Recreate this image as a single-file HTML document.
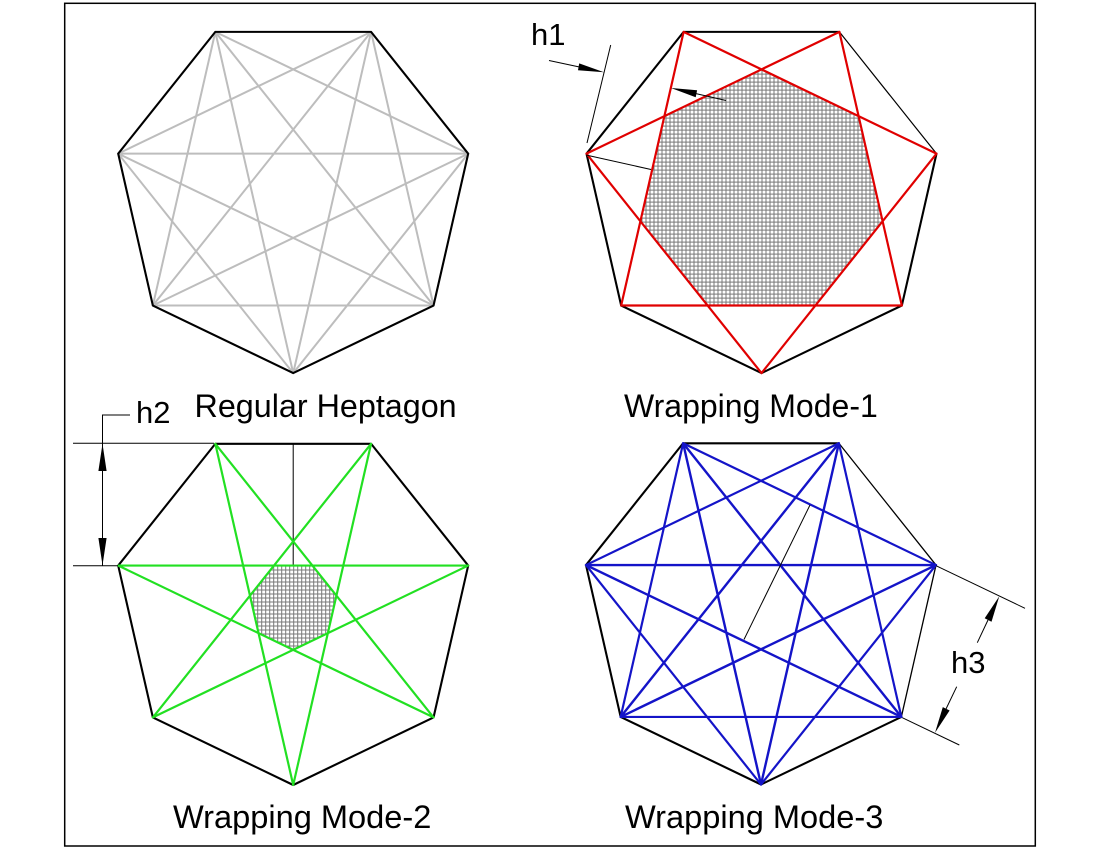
<!DOCTYPE html>
<html>
<head>
<meta charset="utf-8">
<style>
  html,body{margin:0;padding:0;background:#fff;}
  svg{display:block;}
  text{font-family:"Liberation Sans", Arial, sans-serif; fill:#000;}
</style>
</head>
<body>
<svg width="1100" height="850" viewBox="0 0 1100 850" xmlns="http://www.w3.org/2000/svg">
  <defs>
    <pattern id="grid" width="4" height="4" patternUnits="userSpaceOnUse">
      <rect width="4" height="4" fill="#fff"/>
      <path d="M0 0.5H4M0.5 0V4" stroke="#787878" stroke-width="1" shape-rendering="crispEdges"/>
    </pattern>
  </defs>
  <rect x="0" y="0" width="1100" height="850" fill="#fff"/>
  <!-- frame -->
  <rect x="64.7" y="3.3" width="970.6" height="842.7" fill="none" stroke="#000" stroke-width="1.5"/>

  <!-- ===== Heptagon 1: Regular Heptagon ===== -->
  <g transform="translate(293.2,193.6)" stroke-linejoin="round" stroke-linecap="round" fill="none">
    <path d="M0,179.5 L-175,-39.94 L77.88,-161.72 L140.34,111.92 L-140.34,111.92 L-77.88,-161.72 L175,-39.94 Z" stroke="#bdbdbd" stroke-width="2"/>
    <path d="M0,179.5 L-77.88,-161.72 L140.34,111.92 L-175,-39.94 L175,-39.94 L-140.34,111.92 L77.88,-161.72 Z" stroke="#bdbdbd" stroke-width="2"/>
    <polygon points="0,179.5 -140.34,111.92 -175,-39.94 -77.88,-161.72 77.88,-161.72 175,-39.94 140.34,111.92" stroke="#000" stroke-width="2.1"/>
  </g>
  <text x="194.5" y="417" font-size="32.3">Regular Heptagon</text>

  <!-- ===== Heptagon 2: Wrapping Mode-1 ===== -->
  <g transform="translate(761.5,193.6)" stroke-linejoin="round" stroke-linecap="round">
    <polygon points="0,-124.2 97.1,-77.44 121.08,27.64 53.89,111.9 -53.89,111.9 -121.08,27.64 -97.1,-77.44" fill="url(#grid)" stroke="none"/>
    <path d="M-140.34,111.92 L-175,-39.94 L-77.88,-161.72 L77.88,-161.72" fill="none" stroke="#000" stroke-width="2.1"/>
    <path d="M77.88,-161.72 L175,-39.94" fill="none" stroke="#000" stroke-width="1.2"/>
    <path d="M175,-39.94 L140.34,111.92 L0,179.5 L-140.34,111.92" fill="none" stroke="#000" stroke-width="2.1"/>
    <path d="M0,179.5 L-175,-39.94 L77.88,-161.72 L140.34,111.92 L-140.34,111.92 L-77.88,-161.72 L175,-39.94 Z" fill="none" stroke="#e00000" stroke-width="2.2"/>
  </g>
  <!-- h1 dimension -->
  <g stroke="#000" stroke-width="1" fill="none">
    <line x1="587" y1="143" x2="610.7" y2="45"/>
    <line x1="586" y1="155" x2="651" y2="169.5"/>
    <line x1="549" y1="60.5" x2="590" y2="69.3"/>
    <line x1="726" y1="100.5" x2="690" y2="92.3"/>
  </g>
  <polygon points="604,72.3 579.2,63.4 578.0,70.2" fill="#000"/>
  <polygon points="671,88 695.7,97.3 697.1,90.3" fill="#000"/>
  <text x="531" y="45" font-size="31">h1</text>
  <text x="624" y="417" font-size="32">Wrapping Mode-1</text>

  <!-- ===== Heptagon 3: Wrapping Mode-2 ===== -->
  <g transform="translate(293.2,605.5)" stroke-linejoin="round" stroke-linecap="round">
    <polygon points="0,44.3 -34.63,27.62 -43.19,-9.86 -19.22,-39.91 19.22,-39.91 43.19,-9.86 34.63,27.62" fill="url(#grid)" stroke="none"/>
    <line x1="0" y1="-161.72" x2="0" y2="-39.94" stroke="#000" stroke-width="1"/>
    <polygon points="0,179.5 -140.34,111.92 -175,-39.94 -77.88,-161.72 77.88,-161.72 175,-39.94 140.34,111.92" fill="none" stroke="#000" stroke-width="2.1"/>
    <path d="M0,179.5 L-77.88,-161.72 L140.34,111.92 L-175,-39.94 L175,-39.94 L-140.34,111.92 L77.88,-161.72 Z" fill="none" stroke="#22e022" stroke-width="2.2"/>
  </g>
  <!-- h2 dimension -->
  <g stroke="#000" stroke-width="1" fill="none">
    <polyline points="130,415 102.5,415 102.5,565.7"/>
    <line x1="73" y1="443.3" x2="214" y2="443.3"/>
    <line x1="73" y1="565.7" x2="118" y2="565.7"/>
  </g>
  <polygon points="102.5,443.8 98.4,471 106.6,471" fill="#000"/>
  <polygon points="102.5,565.2 98.4,538 106.6,538" fill="#000"/>
  <text x="136" y="423" font-size="31">h2</text>
  <text x="173" y="828" font-size="32.6">Wrapping Mode-2</text>

  <!-- ===== Heptagon 4: Wrapping Mode-3 ===== -->
  <g transform="translate(761,605)" stroke-linejoin="round" stroke-linecap="round">
    <path d="M-140.34,111.92 L-175,-39.94 L-77.88,-161.72 L77.88,-161.72" fill="none" stroke="#000" stroke-width="2.1"/>
    <path d="M77.88,-161.72 L175,-39.94 L140.34,111.92" fill="none" stroke="#000" stroke-width="1.3"/>
    <path d="M140.34,111.92 L0,179.5 L-140.34,111.92" fill="none" stroke="#000" stroke-width="2.1"/>
    <path d="M0,179.5 L-175,-39.94 L77.88,-161.72 L140.34,111.92 L-140.34,111.92 L-77.88,-161.72 L175,-39.94 Z" fill="none" stroke="#1414c8" stroke-width="2.2"/>
    <path d="M0,179.5 L-77.88,-161.72 L140.34,111.92 L-175,-39.94 L175,-39.94 L-140.34,111.92 L77.88,-161.72 Z" fill="none" stroke="#1414c8" stroke-width="2.4"/>
  </g>
  <!-- h3 dimension -->
  <g stroke="#000" stroke-width="1" fill="none">
    <line x1="810" y1="505" x2="744" y2="639.5"/>
    <line x1="936" y1="565.7" x2="1025" y2="608.3"/>
    <line x1="902.3" y1="717.7" x2="959.3" y2="745"/>
    <line x1="988" y1="620" x2="977.3" y2="642.7"/>
    <line x1="946" y1="709" x2="956.7" y2="686.7"/>
  </g>
  <polygon points="999.3,596.3 991.5,621.7 984.7,618.3" fill="#000"/>
  <polygon points="935,732.8 949.6,710.5 942.8,707.1" fill="#000"/>
  <text x="951" y="673" font-size="31">h3</text>
  <text x="625" y="828" font-size="32.6">Wrapping Mode-3</text>
</svg>
</body>
</html>
